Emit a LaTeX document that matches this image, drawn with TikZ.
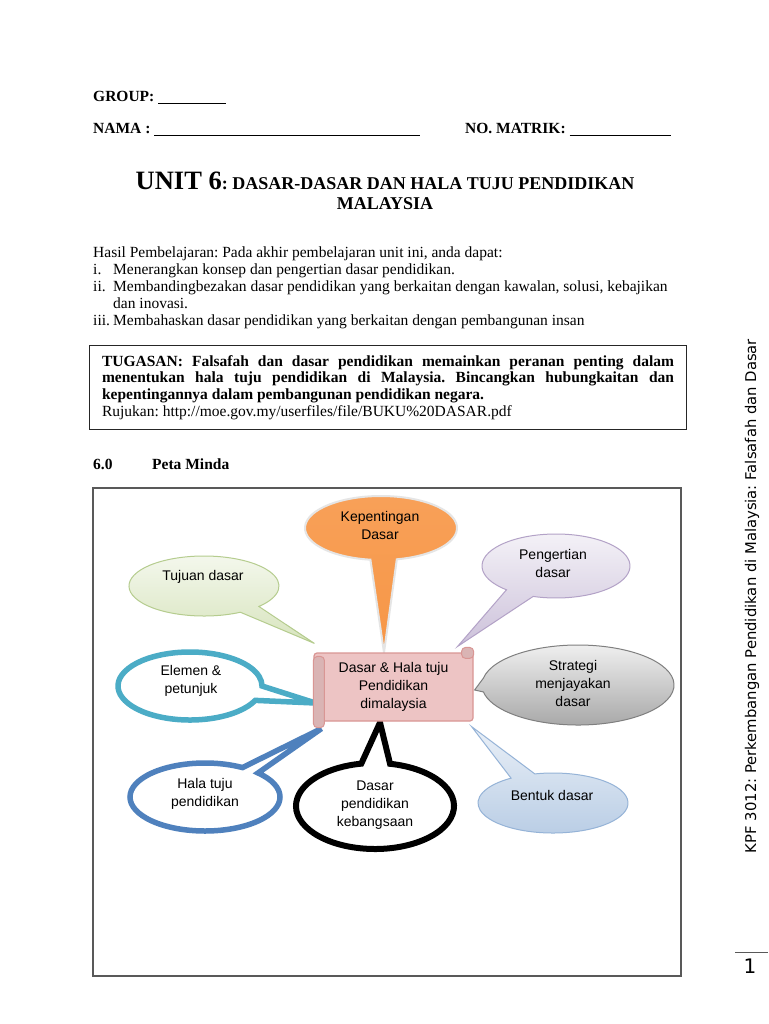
\documentclass[tikz,border=0pt]{standalone}
\usepackage{fontspec}
\setmainfont{Liberation Serif}
\setsansfont{Liberation Sans}
\newfontfamily\sidefont{DejaVu Sans}
\usepackage{tikz}
\usetikzlibrary{positioning, backgrounds, calc}
\frenchspacing
\definecolor{OrangeBub}{HTML}{F79646}
\definecolor{GreenBub}{HTML}{D7E4BD}
\definecolor{GreenLine}{HTML}{B5CC8E}
\definecolor{LilacBub}{HTML}{CCC1DA}
\definecolor{LilacLine}{HTML}{B3A2C7}
\definecolor{GreyBub}{HTML}{A6A6A6}
\definecolor{GreyLine}{HTML}{7F7F7F}
\definecolor{SkyBub}{HTML}{B9CDE5}
\definecolor{SkyLine}{HTML}{95B3D7}
\definecolor{CyanLine}{HTML}{4BACC6}
\definecolor{BlueLine}{HTML}{4F81BD}
\definecolor{ScrollFill}{HTML}{EDC4C4}
\definecolor{ScrollLine}{HTML}{D99694}
\definecolor{FrameGrey}{HTML}{595959}

\begin{document}
\begin{tikzpicture}[
  x=1pt, y=-1pt,
  body/.style={font=\fontsize{15.5}{16.8}\selectfont, inner sep=0pt},
  bodybf/.style={body, font=\fontsize{15.5}{16.8}\selectfont\bfseries},
  taskbox/.style={draw=black!85, line width=1.1pt, anchor=north west,
              text width=572pt, inner xsep=12.5pt, inner ysep=0pt,
              minimum height=84pt, align=justify,
              font=\fontsize{15.5}{16.8}\selectfont},
  bubtxt/.style={font=\sffamily\fontsize{14}{18}\selectfont, align=center,
              inner sep=0pt},
  hub/.style={rectangle, rounded corners=3pt, draw=ScrollLine, line width=1.2pt,
              fill=ScrollFill, minimum width=159pt, minimum height=68pt,
              font=\sffamily\fontsize{14}{18}\selectfont, align=center,
              inner sep=0pt},
  hubroll/.style={draw=ScrollLine, line width=1pt, fill=ScrollFill!92!black,
              rounded corners=4pt},
  kepbub/.style={draw=white!80!gray, line width=2pt,
              top color=OrangeBub!90!white, bottom color=OrangeBub},
  tujbub/.style={draw=GreenLine, line width=1pt,
              top color=GreenBub!25!white, bottom color=GreenBub},
  pengbub/.style={draw=LilacLine, line width=1pt,
              top color=LilacBub!20!white, bottom color=LilacBub},
  stratbub/.style={draw=GreyLine, line width=1pt,
              top color=GreyBub!15!white, bottom color=GreyBub},
  bentbub/.style={draw=SkyLine, line width=1pt,
              top color=SkyBub!30!white, bottom color=SkyBub},
  elembub/.style={draw=CyanLine, line width=5.5pt, fill=white},
  halabub/.style={draw=BlueLine, line width=5.5pt, fill=white},
  dpkbub/.style={draw=black, line width=6pt, fill=white},
]
\useasboundingbox (0,0) rectangle (768,1024);

% header
\node[bodybf, anchor=base west] (group) at (93,102)
  {GROUP: \underline{\hspace{68pt}}};
\node[bodybf, anchor=base west] (nama) at (93,134)
  {NAMA : \underline{\hspace{266pt}}};
\node[bodybf, anchor=base west] (matrik) at (465,134)
  {NO. MATRIK: \underline{\hspace{101pt}}};

% title
\node[anchor=base, inner sep=0pt, font=\bfseries] (title) at (385,190)
  {{\fontsize{26.5}{29}\selectfont UNIT 6}{\fontsize{18}{21}\selectfont: DASAR-DASAR DAN HALA TUJU PENDIDIKAN}};
\node[anchor=base, inner sep=0pt, font=\bfseries\fontsize{18}{21}\selectfont] (title2) at (385,210)
  {MALAYSIA};

% hasil pembelajaran
\node[body, anchor=north west, align=left] (hasil) at (93,247)
  {Hasil Pembelajaran: Pada akhir pembelajaran unit ini, anda dapat:\\
   \makebox[20pt][l]{i.}Menerangkan konsep dan pengertian dasar pendidikan.\\
   \makebox[20pt][l]{ii.}Membandingbezakan dasar pendidikan yang berkaitan dengan kawalan, solusi, kebajikan\\
   \hspace*{20pt}dan inovasi.\\
   \makebox[20pt][l]{iii.}Membahaskan dasar pendidikan yang berkaitan dengan pembangunan insan};

% tugasan box
\node[taskbox] (task) at (89,345)
  {{\bfseries TUGASAN: Falsafah dan dasar pendidikan memainkan peranan penting dalam\linebreak
   menentukan hala tuju pendidikan di Malaysia. Bincangkan hubungkaitan dan\linebreak
   kepentingannya dalam pembangunan pendidikan negara.}\\
   Rujukan: http://moe.gov.my/userfiles/file/BUKU\%20DASAR.pdf};

\node[bodybf, anchor=base west] (peta) at (93,469)
  {\makebox[59pt][l]{6.0}Peta Minda};

% mind map frame
\draw[FrameGrey, line width=1.2pt] (93,488) rectangle (681,976);

% centre scroll
\node[hub] (hub) at (393.5,687) {Dasar \& Hala tuju\\Pendidikan\\dimalaysia};
\draw[hubroll] ([yshift=-4pt]hub.north west) rectangle ([xshift=11pt,yshift=-6pt]hub.south west);
\draw[hubroll] ([xshift=-12pt,yshift=5pt]hub.north east) rectangle ([yshift=-6pt]hub.north east);

% bubble texts
\node[bubtxt] (kep)   at (380,525) {Kepentingan\\Dasar};
\node[bubtxt] (tuj)   at (203,577) {Tujuan dasar};
\node[bubtxt] (peng)  at (553,563) {Pengertian\\dasar};
\node[bubtxt] (elem)  at (191,681) {Elemen \&\\petunjuk};
\node[bubtxt] (strat) at (573,683) {Strategi\\menjayakan\\dasar};
\node[bubtxt] (hala)  at (205,794) {Hala tuju\\pendidikan};
\node[bubtxt] (dpk)   at (375,805) {Dasar\\pendidikan\\kebangsaan};
\node[bubtxt] (bent)  at (552,795) {Bentuk dasar};

\begin{scope}[on background layer]
\fill[white] (0,0) rectangle (768,1024);
% bubbles, tails point at the scroll
\path[kepbub] ([xshift=1pt,yshift=-3pt]kep.center) ++(98:76 and 32)
  arc[start angle=98, end angle=438, x radius=76, y radius=32]
  -- ([xshift=-9.5pt]hub.north) -- cycle;
\path[tujbub] ([xshift=1pt,yshift=-9pt]tuj.center) ++(61:75 and 30)
  arc[start angle=61, end angle=403, x radius=75, y radius=30]
  -- ([xshift=1pt,yshift=9pt]hub.north west) -- cycle;
\path[pengbub] ([xshift=3pt,yshift=-3pt]peng.center) ++(132:74 and 32)
  arc[start angle=132, end angle=468, x radius=74, y radius=32]
  -- ([xshift=-16pt,yshift=6pt]hub.north east) -- cycle;
\path[elembub] ([xshift=-1pt,yshift=-5pt]elem.center) ++(25:72 and 34)
  arc[start angle=25, end angle=360, x radius=72, y radius=34]
  -- ([xshift=2pt,yshift=-16pt]hub.west) -- cycle;
\path[stratbub] ([xshift=5pt,yshift=-2pt]strat.center) ++(190:96 and 40)
  arc[start angle=190, end angle=530, x radius=96, y radius=40]
  -- ([xshift=1pt,yshift=-3pt]hub.east) -- cycle;
\path[halabub] ([yshift=-3pt]hala.center) ++(315:75 and 34)
  arc[start angle=315, end angle=660, x radius=75, y radius=34]
  -- ([xshift=8pt,yshift=-7pt]hub.south west) -- cycle;
\path[dpkbub] ([yshift=-1pt]dpk.center) ++(281:79 and 43)
  arc[start angle=281, end angle=620, x radius=79, y radius=43]
  -- ([xshift=-13.5pt,yshift=-1pt]hub.south) -- cycle;
\path[bentbub] ([xshift=1pt,yshift=-8pt]bent.center) ++(256:75 and 30)
  arc[start angle=256, end angle=596, x radius=75, y radius=30]
  -- ([xshift=-2pt,yshift=-5pt]hub.south east) -- cycle;
\end{scope}

% side footer
\node[rotate=90, inner sep=0pt, font=\sidefont\fontsize{14.8}{16}\selectfont] (side) at (752,596)
  {KPF 3012: Perkembangan Pendidikan di Malaysia: Falsafah dan Dasar};
\node[inner sep=0pt, font=\sidefont\fontsize{20}{22}\selectfont] (pgno) at (750,966) {1};
\draw[FrameGrey, line width=0.8pt] (735,952) -- (768,952);

\end{tikzpicture}
\end{document}
